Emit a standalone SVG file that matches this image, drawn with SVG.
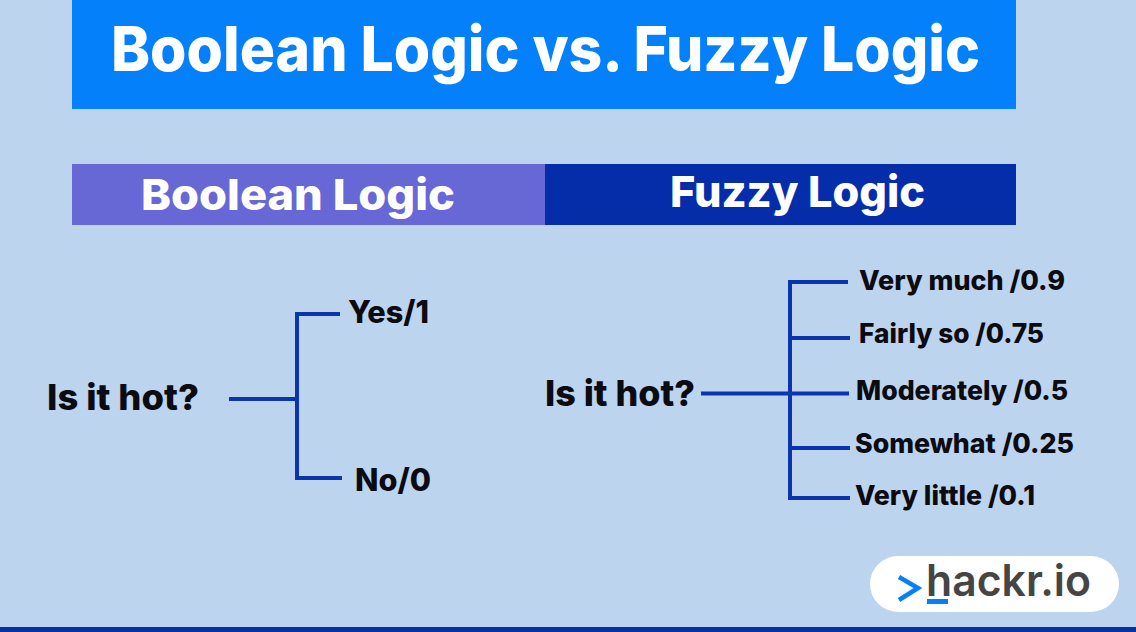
<svg xmlns="http://www.w3.org/2000/svg" width="1136" height="632" viewBox="0 0 1136 632">
<style>
text{font-family:"Inter","Noto Sans","Liberation Sans",sans-serif;font-weight:800;fill:#0b0b12}
.h{fill:#fff}
.c{fill:none;stroke:#0b35ad;stroke-width:4}
.l{font-size:27px}
.b{font-size:31px}
.q{font-size:36px}
</style>
<rect width="1136" height="632" fill="#bdd4ee"/>
<rect x="0" y="627" width="1136" height="5" fill="#0a2f9f"/>
<g id="title"><rect x="72" y="0" width="944" height="109" fill="#0480fb"/><text class="h" x="111" y="71" font-size="62" textLength="869" lengthAdjust="spacingAndGlyphs">Boolean Logic vs. Fuzzy Logic</text></g>
<g id="boolean-header"><rect x="72" y="164" width="473" height="61" fill="#6768d6"/><text class="h" x="141" y="210" font-size="43" textLength="314" lengthAdjust="spacingAndGlyphs">Boolean Logic</text></g>
<g id="fuzzy-header"><rect x="545" y="164" width="471" height="61" fill="#052daa"/><text class="h" x="670" y="207" font-size="43" textLength="255" lengthAdjust="spacingAndGlyphs">Fuzzy Logic</text></g>
<g id="connectors">
<path class="c" d="M229 399H297M340 314H297V478H342"/>
<path class="c" d="M701 393.500H849M848 282H790V498H850M790 338H850M790 448H850"/>
</g>
<g id="bool-q"><text class="q" x="47" y="410" textLength="152" lengthAdjust="spacingAndGlyphs">Is it hot?</text></g>
<g id="yes"><text class="b" x="348" y="323" textLength="81" lengthAdjust="spacingAndGlyphs">Yes/1</text></g>
<g id="no"><text class="b" x="355" y="491" textLength="76" lengthAdjust="spacingAndGlyphs">No/0</text></g>
<g id="fuzzy-q"><text class="q" x="545" y="406" textLength="150" lengthAdjust="spacingAndGlyphs">Is it hot?</text></g>
<g id="f1"><text class="l" x="859" y="290" textLength="206" lengthAdjust="spacingAndGlyphs">Very much /0.9</text></g>
<g id="f2"><text class="l" x="859" y="343" textLength="185" lengthAdjust="spacingAndGlyphs">Fairly so /0.75</text></g>
<g id="f3"><text class="l" x="856" y="400" textLength="212" lengthAdjust="spacingAndGlyphs">Moderately /0.5</text></g>
<g id="f4"><text class="l" x="855" y="453" textLength="219" lengthAdjust="spacingAndGlyphs">Somewhat /0.25</text></g>
<g id="f5"><text class="l" x="855" y="505" textLength="180" lengthAdjust="spacingAndGlyphs">Very little /0.1</text></g>
<g id="logo"><rect x="870" y="556" width="249" height="56" rx="28" fill="#fff"/>
<path d="M899 577L918 588L899 600" fill="none" stroke="#0480fb" stroke-width="4.500"/>
<rect x="927" y="599" width="21" height="5" fill="#0480fb"/>
<text x="926" y="596" font-size="44" style="fill:#454545;font-weight:600" textLength="165" lengthAdjust="spacingAndGlyphs">hackr.io</text></g>
</svg>
